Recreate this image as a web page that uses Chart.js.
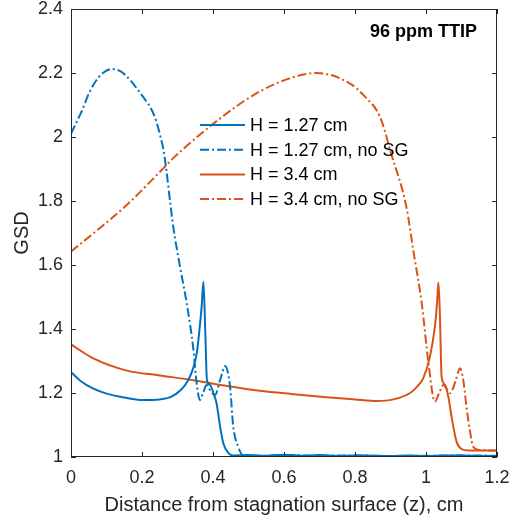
<!DOCTYPE html>
<html>
<head>
<meta charset="utf-8">
<script src="https://cdn.jsdelivr.net/npm/chart.js@4"></script>
<style>
  html, body { margin: 0; padding: 0; background: #fff; }
  #wrap { width: 509px; height: 519px; }
</style>
</head>
<body>
<div id="wrap"><canvas id="gsdChart" width="509" height="519"></canvas></div>
<script>
// ── data ─────────────────────────────────────────────────
const h127Z   = [0, 0.03, 0.06, 0.1, 0.15, 0.2, 0.25, 0.28, 0.31, 0.33, 0.345, 0.355, 0.363, 0.368, 0.373, 0.378, 0.383, 0.392, 0.401, 0.41, 0.42, 0.429, 0.443, 0.457, 0.5, 0.55, 0.6, 0.65, 0.7, 0.75, 0.8, 0.85, 0.9, 0.95, 1.0, 1.05, 1.1, 1.15, 1.2];
const h127GSD = [1.265, 1.235, 1.215, 1.198, 1.186, 1.178, 1.18, 1.187, 1.21, 1.24, 1.28, 1.33, 1.41, 1.47, 1.548, 1.4, 1.24, 1.225, 1.2, 1.168, 1.095, 1.043, 1.013, 1.005, 1.006, 1.004, 1.007, 1.004, 1.006, 1.003, 1.005, 1.004, 1.003, 1.005, 1.003, 1.004, 1.005, 1.003, 1.003];

const h127NoSgZ   = [0, 0.015, 0.03, 0.05, 0.07, 0.09, 0.115, 0.14, 0.165, 0.19, 0.21, 0.225, 0.24, 0.25, 0.262, 0.288, 0.307, 0.326, 0.345, 0.354, 0.363, 0.372, 0.382, 0.394, 0.406, 0.42, 0.434, 0.448, 0.457, 0.471, 0.485, 0.55, 0.6, 0.7, 0.8, 0.9, 1.0, 1.1, 1.2];
const h127NoSgGSD = [2.01, 2.045, 2.08, 2.135, 2.175, 2.2, 2.2125, 2.205, 2.18, 2.145, 2.115, 2.09, 2.05, 2.01, 1.95, 1.72, 1.595, 1.48, 1.334, 1.23, 1.178, 1.2, 1.225, 1.205, 1.194, 1.24, 1.284, 1.22, 1.095, 1.032, 1.005, 1.004, 1.006, 1.004, 1.005, 1.003, 1.004, 1.005, 1.004];

const h34Z   = [0, 0.063, 0.157, 0.25, 0.345, 0.44, 0.532, 0.62, 0.72, 0.8, 0.861, 0.908, 0.955, 0.975, 0.992, 1.011, 1.025, 1.031, 1.035, 1.039, 1.044, 1.054, 1.063, 1.072, 1.086, 1.1, 1.12, 1.2];
const h34GSD = [1.352, 1.308, 1.27, 1.255, 1.24, 1.222, 1.207, 1.197, 1.187, 1.18, 1.175, 1.18, 1.2, 1.22, 1.246, 1.313, 1.407, 1.48, 1.545, 1.45, 1.251, 1.225, 1.188, 1.126, 1.048, 1.025, 1.02, 1.02];

const h34NoSgZ   = [0, 0.063, 0.157, 0.26, 0.288, 0.35, 0.42, 0.514, 0.607, 0.692, 0.786, 0.828, 0.87, 0.903, 0.945, 0.964, 0.988, 1.007, 1.025, 1.037, 1.049, 1.068, 1.084, 1.096, 1.105, 1.114, 1.124, 1.133, 1.152, 1.2];
const h34NoSgGSD = [1.642, 1.699, 1.7875, 1.902, 1.934, 1.995, 2.058, 2.131, 2.18, 2.2, 2.167, 2.126, 2.064, 1.944, 1.78, 1.647, 1.48, 1.293, 1.173, 1.2, 1.225, 1.199, 1.24, 1.277, 1.24, 1.157, 1.08, 1.032, 1.022, 1.02];

const xTicks = [0, 0.2, 0.4, 0.6, 0.8, 1, 1.2];
const yTicks = [1, 1.2, 1.4, 1.6, 1.8, 2, 2.2, 2.4];

const BLUE = '#0072BD';
const ORANGE = '#D95319';
const DASHDOT = [9, 3, 2, 3];
const FONT = '"Liberation Sans", Arial, sans-serif';

const toPts = (xs, ys) => xs.map((x, i) => ({ x, y: ys[i] }));
const fmt = v => String(Math.round(v * 10) / 10);

// ── box, inward ticks, legend and label ──────────────────
const matlabAxes = {
  id: 'matlabAxes',
  afterDatasetsDraw(chart) {
    const { ctx, chartArea: a, scales } = chart;
    ctx.save();
    ctx.strokeStyle = '#262626';
    ctx.lineWidth = 1;
    ctx.strokeRect(a.left + 0.5, a.top + 0.5, a.right - a.left - 1, a.bottom - a.top - 1);
    ctx.beginPath();
    xTicks.forEach(v => {
      const px = Math.round(scales.x.getPixelForValue(v)) + 0.5;
      ctx.moveTo(px, a.bottom); ctx.lineTo(px, a.bottom - 5);
      ctx.moveTo(px, a.top); ctx.lineTo(px, a.top + 5);
    });
    yTicks.forEach(v => {
      const py = Math.round(scales.y.getPixelForValue(v)) + 0.5;
      ctx.moveTo(a.left, py); ctx.lineTo(a.left + 5, py);
      ctx.moveTo(a.right, py); ctx.lineTo(a.right - 5, py);
    });
    ctx.stroke();

    // legend (no box)
    ctx.font = '18px ' + FONT;
    ctx.textBaseline = 'middle';
    ctx.textAlign = 'left';
    chart.data.datasets.forEach((ds, i) => {
      const y = 125 + i * 24.7;
      ctx.strokeStyle = ds.borderColor;
      ctx.lineWidth = 2;
      ctx.setLineDash(ds.borderDash || []);
      ctx.beginPath();
      ctx.moveTo(200, y); ctx.lineTo(245, y);
      ctx.stroke();
      ctx.setLineDash([]);
      ctx.fillStyle = '#000';
      ctx.fillText(ds.label, 250, y + 1);
    });

    ctx.font = 'bold 18px ' + FONT;
    ctx.textAlign = 'right';
    ctx.fillText('96 ppm TTIP', 477, 32);
    ctx.restore();
  }
};

new Chart(document.getElementById('gsdChart'), {
  type: 'scatter',
  data: {
    datasets: [
      { label: 'H = 1.27 cm',        data: toPts(h127Z, h127GSD),         borderColor: BLUE },
      { label: 'H = 1.27 cm, no SG', data: toPts(h127NoSgZ, h127NoSgGSD), borderColor: BLUE,   borderDash: DASHDOT },
      { label: 'H = 3.4 cm',         data: toPts(h34Z, h34GSD),           borderColor: ORANGE },
      { label: 'H = 3.4 cm, no SG',  data: toPts(h34NoSgZ, h34NoSgGSD),   borderColor: ORANGE, borderDash: DASHDOT }
    ].map(ds => Object.assign({ showLine: true, pointRadius: 0, borderWidth: 2, cubicInterpolationMode: 'monotone', fill: false }, ds))
  },
  options: {
    responsive: false,
    animation: false,
    layout: { padding: { top: 9, right: 12, left: 0, bottom: 0 } },
    plugins: { legend: { display: false }, tooltip: { enabled: false } },
    scales: {
      x: {
        type: 'linear', min: 0, max: 1.2,
        afterBuildTicks: s => { s.ticks = xTicks.map(v => ({ value: v })); },
        afterFit: s => { s.height = 62; s.paddingLeft = 0; s.paddingRight = 0; },
        grid: { display: false, drawTicks: false },
        border: { display: false },
        ticks: { color: '#262626', font: { family: FONT, size: 18 }, padding: 10, maxRotation: 0, callback: fmt },
        title: { display: true, text: 'Distance from stagnation surface (z), cm', color: '#262626', font: { family: FONT, size: 20 }, padding: { top: 0, bottom: 2 } }
      },
      y: {
        type: 'linear', min: 1, max: 2.4,
        afterBuildTicks: s => { s.ticks = yTicks.map(v => ({ value: v })); },
        afterFit: s => { s.width = 71; s.paddingTop = 0; s.paddingBottom = 0; },
        grid: { display: false, drawTicks: false },
        border: { display: false },
        ticks: { color: '#262626', font: { family: FONT, size: 18 }, padding: 8, callback: fmt },
        title: { display: true, text: 'GSD', color: '#262626', font: { family: FONT, size: 20 }, padding: { top: 10, bottom: 4 } }
      }
    }
  },
  plugins: [matlabAxes]
});
</script>
</body>
</html>
